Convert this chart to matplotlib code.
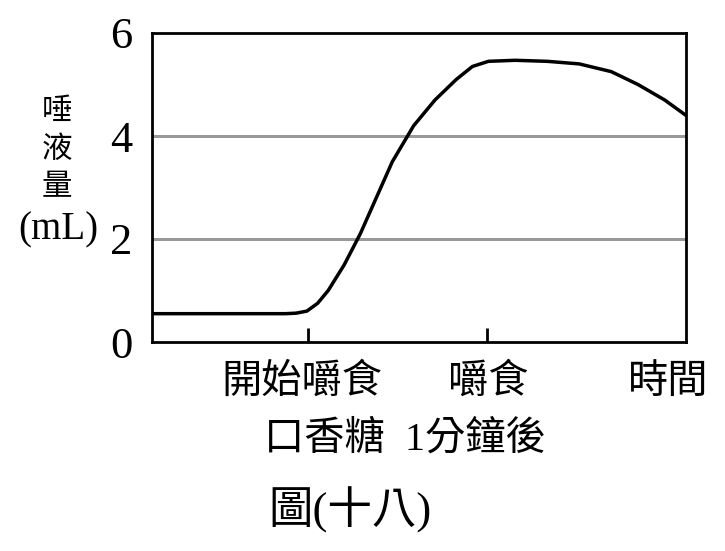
import matplotlib
matplotlib.use("Agg")
from matplotlib import pyplot as plt

FAM = ['Liberation Serif', 'Noto Sans CJK TC']

# curve (x in axis fraction 0..1, y in mL)
curve_x = [0.0, 0.15, 0.25, 0.27, 0.29, 0.31, 0.33, 0.36, 0.39, 0.42, 0.45, 0.49, 0.53, 0.57, 0.60, 0.63,
           0.68, 0.74, 0.80, 0.86, 0.91, 0.96, 1.0]
curve_y = [0.55, 0.55, 0.55, 0.56, 0.6, 0.75, 1.0, 1.5, 2.1, 2.8, 3.5, 4.2, 4.7, 5.1, 5.35, 5.45,
           5.47, 5.45, 5.4, 5.25, 5.0, 4.7, 4.4]
y_ticks = [0, 2, 4, 6]
grid_vals = [2, 4]
x_ticks = [0.292, 0.627]

fig = plt.figure(figsize=(7.25, 5.51), dpi=100)
ax = fig.add_axes([152/725, (551-342)/551, (686-152)/725, (342-33)/551])
for g in grid_vals:
    ax.axhline(g, color='#999999', lw=2.2, zorder=1)
ax.plot(curve_x, curve_y, color='black', lw=2.5, zorder=2)
ax.set_xlim(0, 1)
ax.set_ylim(0, 6)
ax.set_yticks(y_ticks)
ax.set_yticklabels([str(v) for v in y_ticks], family=FAM, fontsize=32)
ax.set_xticks(x_ticks)
ax.set_xticklabels([])
ax.tick_params(axis='x', direction='in', length=10, width=2)
ax.tick_params(axis='y', length=0, pad=14)
for s in ax.spines.values():
    s.set_linewidth(2)

fig.text(57/725, 1-150/551, '唾\n液\n量', family=FAM, fontsize=22, ha='center', va='center', linespacing=1.4)
fig.text(58/725, 1-230/551, '(mL)', family=FAM, fontsize=28, ha='center', va='center')
fig.text(302/725, 1-383/551, '開始嚼食', family=FAM, fontsize=29, ha='center', va='center')
fig.text(488/725, 1-383/551, '嚼食', family=FAM, fontsize=29, ha='center', va='center')
fig.text(668/725, 1-383/551, '時間', family=FAM, fontsize=29, ha='center', va='center')
fig.text(405/725, 1-440/551, '口香糖  1分鐘後', family=FAM, fontsize=29, ha='center', va='center')
fig.text(350/725, 1-510/551, '圖(十八)', family=FAM, fontsize=32, ha='center', va='center')

fig.savefig('out.png', dpi=100)
